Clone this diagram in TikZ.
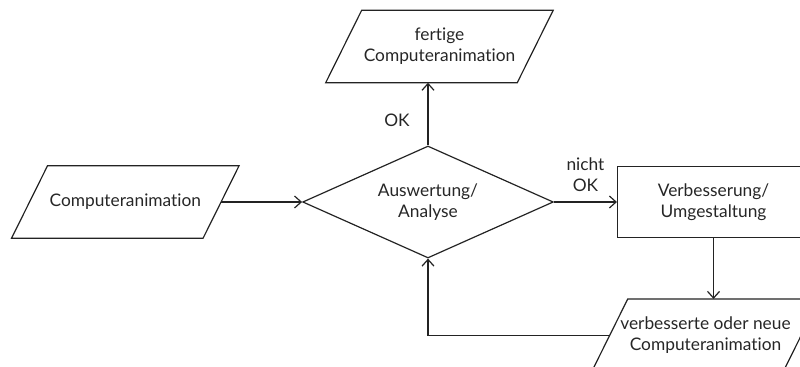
\documentclass[tikz,border=0pt]{standalone}
\usepackage{fontspec}
\setmainfont{Lato}[Ligatures=NoCommon]
\usepackage{tikz}
\definecolor{flowgray}{RGB}{35,35,35}
\usetikzlibrary{shapes.geometric,arrows.meta,positioning}

\begin{document}
\begin{tikzpicture}[x=0.75pt, y=-0.75pt, font=\fontsize{13}{15.5}\selectfont]
    \useasboundingbox (0,0) rectangle (800,367);
    \tikzset{
        iobox/.style={rectangle, minimum width=143.25pt, minimum height=54pt, text=black!85, align=center, inner sep=0pt,
            append after command={\pgfextra{\draw[flowgray, line width=0.9pt] ([xshift=13.5pt]\tikzlastnode.north west) -- ([xshift=13.5pt]\tikzlastnode.north east) -- ([xshift=-13.5pt]\tikzlastnode.south east) -- ([xshift=-13.5pt]\tikzlastnode.south west) -- cycle;}}},
        decbox/.style={diamond, aspect=2.24, minimum width=188pt, minimum height=84pt, draw=flowgray, line width=0.9pt, text=black!85, align=center, inner sep=1pt},
        procbox/.style={rectangle, minimum width=144pt, minimum height=53pt, draw=flowgray, line width=0.9pt, text=black!85, align=center},
        pfeil/.style={-{Straight Barb[length=5pt,width=9pt]}, line width=0.9pt, flowgray}
    }
    \node[decbox] (ausw) at (428,202) {Auswertung/\\Analyse};
    \node[iobox, left=60.75pt of ausw] (start) {Computeranimation};
    \node[iobox, above=47pt of ausw, xshift=8.6pt] (fertig) {fertige\\Computeranimation};
    \node[procbox, right=47.25pt of ausw] (verb) {Verbesserung/\\Umgestaltung};
    \node[iobox, below=45.75pt of verb, xshift=-6pt] (neu) {verbesserte oder neue\\Computeranimation};

    \draw[pfeil] (start) -- (ausw);
    \draw[pfeil] (ausw.north) -- node[pos=0.4, left=10pt, text=black!85] {OK} (ausw.north |- fertig.south);
    \draw[pfeil] (ausw) -- node[above=4pt, align=center, text=black!85] {nicht\\OK} (verb);
    \draw[pfeil] (verb.south) -- (verb.south |- neu.north);
    \draw[pfeil] (neu.west) -| (ausw.south);
\end{tikzpicture}
\end{document}
